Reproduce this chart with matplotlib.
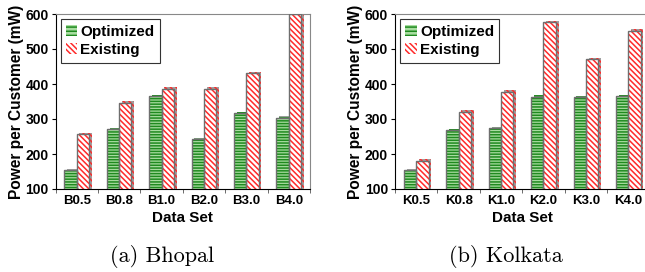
import numpy as np
import matplotlib.pyplot as plt
import matplotlib.patheffects as pe
from matplotlib.patches import Patch

# data
b_labels = ['B0.5', 'B0.8', 'B1.0', 'B2.0', 'B3.0', 'B4.0']
b_opt = [153, 271, 366, 243, 317, 304]
b_exist = [257, 347, 387, 387, 430, 600]

k_labels = ['K0.5', 'K0.8', 'K1.0', 'K2.0', 'K3.0', 'K4.0']
k_opt = [153, 268, 274, 364, 362, 366]
k_exist = [181, 321, 378, 577, 471, 552]

plt.rcParams['font.family'] = ['Liberation Sans', 'DejaVu Sans']
plt.rcParams['font.weight'] = 'bold'
plt.rcParams['hatch.linewidth'] = 1.1

GREEN_LIGHT = '#a8dca0'
GREEN_DARK = '#1f8a1f'
RED = '#ff2a2a'
EDGE = '#6e6e6e'

fig = plt.figure(figsize=(6.45, 2.72), dpi=100)
ax1 = fig.add_axes([55.5/645, 1-189/272, 254.5/645, 175/272])
ax2 = fig.add_axes([395/645, 1-189/272, 254.5/645, 175/272])

shadow = [pe.SimplePatchShadow(offset=(2, 1), shadow_rgbFace='#a0a0a0', alpha=1.0), pe.Normal()]


def draw(ax, labels, opt, exist):
    x = np.arange(len(labels))
    w = 0.29
    # fill + hatch layers
    ax.bar(x - w/2, opt, w, color=GREEN_LIGHT, edgecolor=GREEN_DARK,
           hatch='------', linewidth=0, zorder=2, path_effects=shadow)
    ax.bar(x + w/2, exist, w, color='white', edgecolor=RED,
           hatch='\\\\\\\\\\\\', linewidth=0, zorder=2, path_effects=shadow)
    # outlines
    ax.bar(x - w/2, opt, w, fill=False, edgecolor=EDGE, linewidth=1.0, zorder=3)
    ax.bar(x + w/2, exist, w, fill=False, edgecolor=EDGE, linewidth=1.0, zorder=3)

    ax.set_ylim(100, 600)
    ax.set_xlim(-0.5, len(labels) - 0.5)
    ax.set_yticks([100, 200, 300, 400, 500, 600])
    ax.set_xticks(x)
    ax.set_xticklabels(labels, fontsize=9.5, fontweight='bold')
    ax.set_xticks(np.arange(len(labels) + 1) - 0.5, minor=True)
    ax.tick_params(axis='x', which='major', length=0, pad=4.5)
    ax.tick_params(axis='x', which='minor', length=3, direction='out', color='#555555')
    ax.tick_params(axis='y', length=3, direction='out', labelsize=10, pad=2)
    for t in ax.get_yticklabels():
        t.set_fontweight('bold')
    ax.spines['top'].set_color('#888888')
    ax.spines['right'].set_color('#888888')
    ax.set_xlabel('Data Set', fontsize=11, fontweight='bold', labelpad=2.5)
    ax.set_ylabel('Power per Customer (mW)', fontsize=11.2, fontweight='bold', labelpad=1)

    handles = [Patch(facecolor=GREEN_LIGHT, edgecolor=GREEN_DARK, hatch='----', linewidth=0),
               Patch(facecolor='white', edgecolor=RED, hatch='\\\\\\\\\\\\', linewidth=0)]
    leg = ax.legend(handles, ['Optimized', 'Existing'], loc='upper left',
                    bbox_to_anchor=(0.02, 0.97), fancybox=False, framealpha=1,
                    edgecolor='#333333', prop={'weight': 'bold', 'size': 11},
                    handlelength=0.75, handleheight=0.75, handletextpad=0.2,
                    borderpad=0.35, labelspacing=0.3, borderaxespad=0)
    leg.get_frame().set_linewidth(0.8)


draw(ax1, b_labels, b_opt, b_exist)
draw(ax2, k_labels, k_opt, k_exist)

fig.text(162/645, 1-257/272, '(a) Bhopal', fontfamily='cmr10', fontweight='normal',
         fontsize=16, ha='center', va='center')
fig.text(506/645, 1-257/272, '(b) Kolkata', fontfamily='cmr10', fontweight='normal',
         fontsize=16, ha='center', va='center')

fig.savefig('out.png', dpi=100)
